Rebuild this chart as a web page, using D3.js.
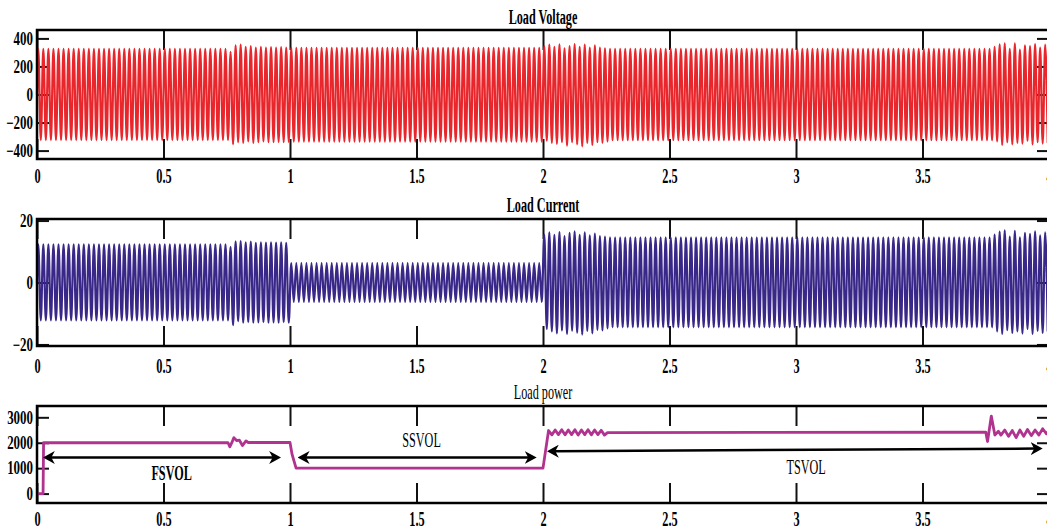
<!DOCTYPE html>
<html>
<head>
<meta charset="utf-8">
<script src="https://cdn.jsdelivr.net/npm/d3@7"></script>
<style>
  body { margin: 0; background: #fff; }
  svg { display: block; }
</style>
</head>
<body>
<script>
// ---- values ----
var cycle = 0.02; // 50 Hz supply, one cycle in seconds
var xTicks = [0, 0.5, 1, 1.5, 2, 2.5, 3, 3.5, 4];
var voltageTicks = [-400, -200, 0, 200, 400];
var currentTicks = [-20, 0, 20];
var powerTicks = [0, 1000, 2000, 3000];

// steady stretches: [from, to, positive peak, negative peak]
var voltageSteady = [[0, 0.76, 325, -325], [1.0, 2.0, 333, -336], [2.26, 3.78, 325, -326]];
// disturbed stretches, one [peak, trough] per cycle
var voltageBursts = [
  {start: 0.76, peaks: [[305, -355], [350, -340], [355, -345], [340, -335], [345, -345], [335, -340],
                        [340, -335], [335, -340], [338, -340], [335, -338], [338, -340], [335, -338]]},
  {start: 2.0, peaks: [[345, -330], [355, -345], [340, -352], [358, -340], [330, -365], [345, -340], [360, -355],
                       [340, -370], [355, -345], [335, -360], [350, -340], [335, -345], [330, -335]]},
  {start: 3.78, peaks: [[340, -335], [358, -360], [365, -340], [325, -355], [365, -345], [320, -350],
                        [350, -330], [345, -355], [360, -340], [335, -350], [355, -345]]}
];

var currentSteady = [[0, 0.76, 12.3, -12.2], [1.0, 2.0, 6.3, -6.3], [2.26, 3.78, 14.6, -14.5]];
var currentBursts = [
  {start: 0.76, peaks: [[11.5, -13.8], [13.3, -12.5], [13.4, -13], [13, -12.8], [13.2, -13], [12.8, -12.9],
                        [13, -12.8], [12.9, -13], [13, -12.9], [12.9, -13], [13, -12.8], [12.8, -13]]},
  {start: 2.0, peaks: [[15.5, -15], [16.2, -15.8], [15.4, -16.4], [16.3, -15.5], [15, -16.6], [16, -15.6], [16.5, -16.2],
                       [15.4, -16.8], [16.2, -15.6], [15.2, -16.4], [15.8, -15.3], [15, -15.5], [14.8, -14.8]]},
  {start: 3.78, peaks: [[15.5, -15.8], [16.4, -16.6], [16.8, -15.4], [14.8, -16.3], [16.7, -15.8], [14.6, -16.5],
                        [16, -15], [15.7, -16.6], [16.5, -15.6], [15.2, -16.3], [16.2, -15.8]]}
];

// load power trace [t, W]
var powerTrace = [
  [0, 0], [0.024, 0], [0.026, 2000], [0.755, 2000], [0.762, 1840], [0.77, 2000], [0.778, 2200], [0.79, 2080],
  [0.8, 2100], [0.812, 1890], [0.826, 2070], [0.835, 2010], [1.0, 2010], [1.008, 1550], [1.024, 1000],
  [2.0, 1000], [2.022, 2480], [2.035, 2310], [2.048, 2500], [2.061, 2320], [2.074, 2510], [2.087, 2310],
  [2.1, 2500], [2.113, 2320], [2.126, 2510], [2.139, 2300], [2.152, 2500], [2.165, 2320], [2.178, 2510],
  [2.191, 2310], [2.204, 2500], [2.217, 2320], [2.23, 2490], [2.243, 2300], [2.255, 2400], [3.75, 2420],
  [3.757, 2050], [3.772, 3050], [3.786, 2300], [3.8, 2450], [3.81, 2300], [3.825, 2500], [3.84, 2250],
  [3.855, 2480], [3.87, 2200], [3.885, 2500], [3.9, 2250], [3.915, 2520], [3.93, 2280], [3.945, 2500],
  [3.96, 2300], [3.975, 2550], [3.99, 2350], [4.0, 2500]
];

// mode annotations on the power panel
var modeNames = ["FSVOL", "SSVOL", "TSVOL"];
var modeSpans = [[0.023, 0.965, 1420, 1420], [1.03, 1.975, 1420, 1420], [2.015, 3.975, 1665, 1770]];
var modeLabelAt = [[0.532, 524], [1.52, 1835], [3.04, 760]];

// ---- drawing ----
var W = 1047, H = 531;
var svg = d3.select("body").append("svg").attr("width", W).attr("height", H);

var x = d3.scaleLinear().domain([0, 4]).range([37, 1049]);

var panels = [
  {title: "Load Voltage", top: 30, bottom: 159, domain: [-460, 460], ticks: voltageTicks, pad: 8, titleY: 24, bold: true},
  {title: "Load Current", top: 219, bottom: 346, domain: [-20.5, 20.5], ticks: currentTicks, pad: 11, titleY: 212, bold: true},
  {title: "Load power", top: 406, bottom: 503, domain: [-370, 3445], ticks: powerTicks, pad: 7, titleY: 399, bold: false}
];

var serif = "'Liberation Serif', 'Times New Roman', serif";

function buildWave(steady, bursts) {
  var pts = [{t: 0, v: 0}];
  var n = Math.round(4 / cycle);
  for (var k = 0; k < n; k++) {
    var t0 = k * cycle, pair = null;
    bursts.forEach(function(b) {
      var j = Math.round((t0 - b.start) / cycle);
      if (t0 > b.start - 1e-9 && j >= 0 && j < b.peaks.length) pair = b.peaks[j];
    });
    if (!pair) {
      var s = steady.find(function(s) { return t0 > s[0] - 1e-9 && t0 < s[1] - 1e-9; });
      pair = [s[2], s[3]];
    }
    pts.push({t: t0 + cycle / 4, v: pair[0]}, {t: t0 + 3 * cycle / 4, v: pair[1]});
  }
  return pts;
}

var series = [
  {data: buildWave(voltageSteady, voltageBursts), color: "#e8262b", width: 2.2, curve: d3.curveMonotoneX},
  {data: buildWave(currentSteady, currentBursts), color: "#3a2888", width: 2.2, curve: d3.curveMonotoneX},
  {data: powerTrace.map(function(d) { return {t: d[0], v: d[1]}; }), color: "#b0338f", width: 2.8, curve: d3.curveLinear}
];

// arrow head
svg.append("defs").append("marker")
  .attr("id", "head")
  .attr("viewBox", "0 0 12 13")
  .attr("refX", 6).attr("refY", 6.5)
  .attr("markerWidth", 12).attr("markerHeight", 13)
  .attr("markerUnits", "userSpaceOnUse")
  .attr("orient", "auto-start-reverse")
  .append("path")
  .attr("d", "M0,0 L12,6.5 L0,13 L3.5,6.5 Z")
  .attr("fill", "#000");

var noText = function() { return ""; };

panels.forEach(function(p, i) {
  var y = d3.scaleLinear().domain(p.domain).range([p.bottom, p.top]);
  var g = svg.append("g");

  // inward ticks on all four sides
  g.append("g").attr("transform", "translate(0," + p.top + ")")
    .call(d3.axisBottom(x).tickValues(xTicks).tickSize(20).tickFormat(noText));
  g.append("g").attr("transform", "translate(0," + p.bottom + ")")
    .call(d3.axisTop(x).tickValues(xTicks).tickSize(20).tickFormat(noText));
  g.append("g").attr("transform", "translate(" + x(0) + ",0)")
    .call(d3.axisRight(y).tickValues(p.ticks).tickSize(12).tickFormat(noText));
  g.append("g").attr("transform", "translate(" + x(4) + ",0)")
    .call(d3.axisLeft(y).tickValues(p.ticks).tickSize(12).tickFormat(noText));
  g.selectAll(".domain").remove();
  g.selectAll(".tick line").attr("stroke", "#111").attr("stroke-width", 2);

  // tick labels
  var xl = g.append("g").attr("transform", "translate(0," + p.bottom + ")")
    .call(d3.axisBottom(x).tickValues(xTicks).tickSize(0).tickPadding(p.pad).tickFormat(d3.format("")));
  var yl = g.append("g").attr("transform", "translate(" + x(0) + ",0)")
    .call(d3.axisLeft(y).tickValues(p.ticks).tickSize(0).tickPadding(5.5).tickFormat(d3.format("")));
  xl.selectAll(".domain").remove();
  yl.selectAll(".domain").remove();
  xl.selectAll("text").attr("font-family", serif).attr("font-size", 22).attr("font-weight", "bold")
    .attr("fill", "#000").attr("transform", "scale(0.56,1)");
  yl.selectAll("text").attr("font-family", serif).attr("font-size", 18).attr("font-weight", "bold")
    .attr("fill", "#000").attr("transform", "scale(0.72,1)");

  // title
  svg.append("text")
    .attr("transform", "translate(543," + p.titleY + ") scale(0.61,1)")
    .attr("text-anchor", "middle")
    .attr("font-family", serif).attr("font-size", 20)
    .attr("font-weight", p.bold ? "bold" : "normal")
    .text(p.title);

  // signal
  var s = series[i];
  var line = d3.line().x(function(d) { return x(d.t); }).y(function(d) { return y(d.v); }).curve(s.curve);
  g.append("path").datum(s.data)
    .attr("d", line)
    .attr("fill", "none")
    .attr("stroke", s.color)
    .attr("stroke-width", s.width)
    .attr("stroke-linejoin", "round");

  // frame
  g.append("rect")
    .attr("x", x(0)).attr("y", p.top)
    .attr("width", x(4) - x(0)).attr("height", p.bottom - p.top)
    .attr("fill", "none").attr("stroke", "#000").attr("stroke-width", 2.5);

  if (i === 2) {
    modeSpans.forEach(function(m, k) {
      var x1 = x(m[0]), y1 = y(m[2]), x2 = x(m[1]), y2 = y(m[3]);
      var len = Math.hypot(x2 - x1, y2 - y1), ux = (x2 - x1) / len, uy = (y2 - y1) / len;
      g.append("line")
        .attr("x1", x1 + ux * 6).attr("y1", y1 + uy * 6)
        .attr("x2", x2 - ux * 6).attr("y2", y2 - uy * 6)
        .attr("stroke", "#000").attr("stroke-width", 2.5)
        .attr("marker-start", "url(#head)").attr("marker-end", "url(#head)");
      g.append("text")
        .attr("transform", "translate(" + x(modeLabelAt[k][0]) + "," + y(modeLabelAt[k][1]) + ") scale(0.58,1)")
        .attr("text-anchor", "middle")
        .attr("font-family", serif).attr("font-size", 21)
        .attr("font-weight", k === 0 ? "bold" : "normal")
        .text(modeNames[k]);
    });
  }
});
</script>
</body>
</html>
